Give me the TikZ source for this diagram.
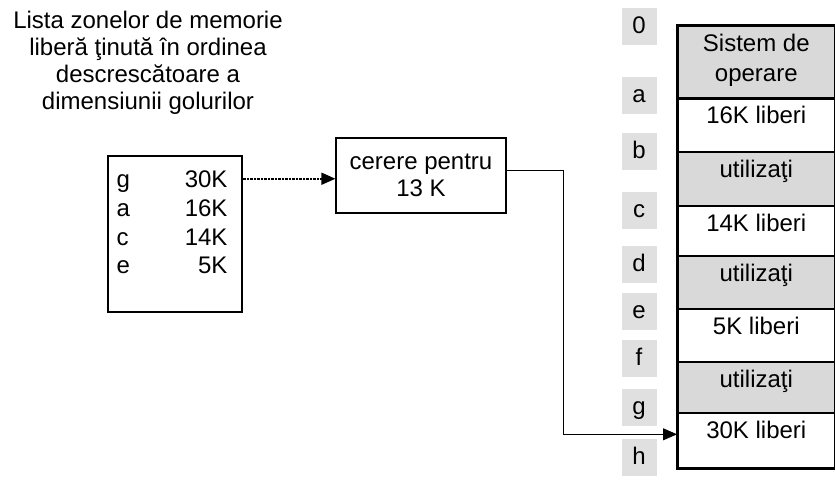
\documentclass[tikz,border=0pt]{standalone}
\usepackage{fontspec}
\setmainfont{Liberation Sans}
\usetikzlibrary{arrows.meta}
\tikzset{%
    seg/.style={draw,line width=1.6pt,minimum width=157pt,anchor=north west,inner sep=0pt},
    used/.style={seg,fill=black!15},
    free/.style={seg,fill=white},
    segtext/.style={anchor=north,yshift=-6pt,align=center,text height=17pt,text depth=5pt,inner sep=3pt},
    addr/.style={fill=black!12,minimum width=35pt,minimum height=37pt,inner sep=0pt,text height=17pt,text depth=3pt},
    box/.style={draw,line width=1.2pt,inner sep=0pt},
    tip/.style={-{Triangle[length=14pt,width=12pt]}}
}

\begin{document}
\begin{tikzpicture}[x=1pt,y=-1pt,font=\fontsize{24}{27}\selectfont]
            \useasboundingbox (0,0) rectangle (835,480);

            \node[align=center] (title) at (148,63) {Lista zonelor de memorie\\liberă ţinută în ordinea\\descrescătoare a\\dimensiunii golurilor};

            \node[box,minimum width=134pt,minimum height=156pt] (lst) at (175,234) {};
            \foreach \nm/\sz/\y [count=\i] in {g/30K/187,a/16K/216,c/14K/245,e/5K/273}{
                \node[anchor=base west] (n\i) at (113,\y) {\nm};
                \node[anchor=base east] (s\i) at (231,\y) {\sz};
            }

            \node[box,align=center,minimum width=170pt,minimum height=75pt] (req) at (421,175.5) {cerere pentru\\13 K};

            \foreach \top/\h/\st/\txt/\th [count=\k] in {25/72/used/{Sistem de\\[3pt]operare}/47,97/54/free/{16K liberi}/17,
                    151/54/used/{utilizaţi}/17,205/50/free/{14K liberi}/17,255/53/used/{utilizaţi}/17,
                    308/53/free/{5K liberi}/17,361/51/used/{utilizaţi}/17,412/55/free/{30K liberi}/17}{
                \node[\st,minimum height=\h pt,label={[segtext,text height=\th pt]north:\txt}] (m\k) at (677,\top) {};
            }
            \draw[line width=2pt] (m1.north west) rectangle (m8.south east);
            \draw[line width=3pt] (m1.south west) -- (m1.south east);

            \foreach \t/\y in {0/26,a/95,b/151,c/210,d/264,e/311,f/358,g/407,h/457}{
                \node[addr] (adr\t) at (639,\y) {\t};
            }

            \draw[line width=1.6pt,dash pattern=on 1pt off 0.4pt,tip] (lst.east |- s1) -- (req.west |- s1);
            \coordinate (turn) at (563,170);
            \draw[line width=1pt,tip] (req.east |- turn) -- (turn) |- ([yshift=6pt]m8.west);
\end{tikzpicture}
\end{document}
